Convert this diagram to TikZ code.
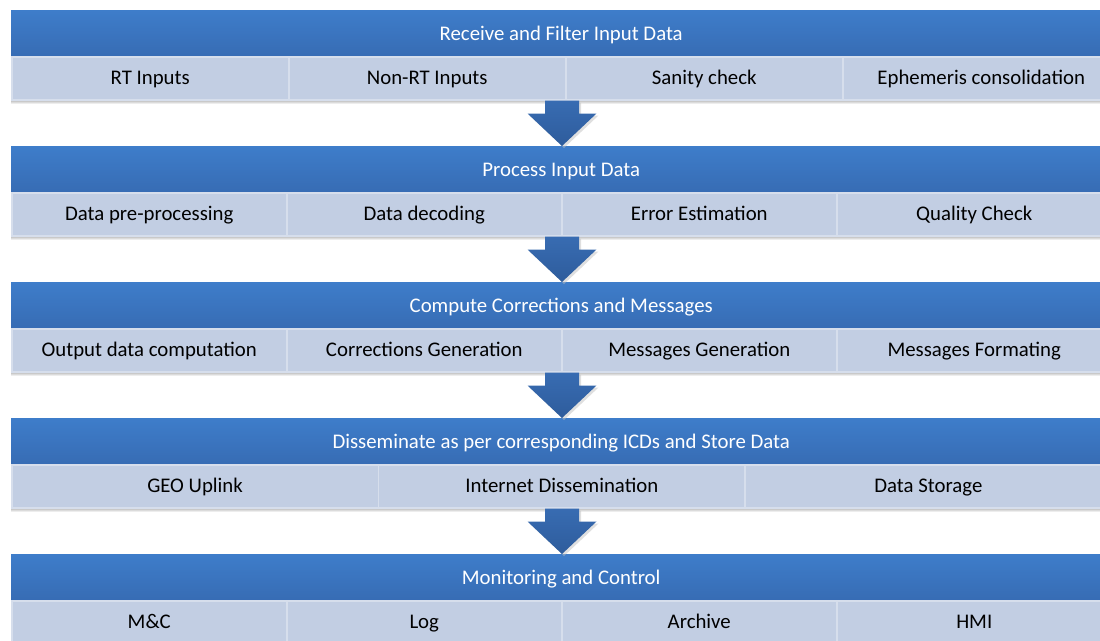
\documentclass[tikz,border=0pt]{standalone}
\usepackage{fontspec}
\setmainfont{Carlito}
\usetikzlibrary{calc}
\definecolor{hdrtop}{RGB}{62,125,202}
\definecolor{hdrbot}{RGB}{55,108,180}
\definecolor{subfill}{RGB}{194,206,227}
\definecolor{subline}{RGB}{214,222,236}
\definecolor{arrtop}{RGB}{56,108,178}
\definecolor{arrbot}{RGB}{46,92,156}
\tikzset{
  txt/.style={font=\fontsize{20.8}{25}\selectfont},
  hdr/.style={rectangle, anchor=north west, minimum width=1100pt, minimum height=46pt,
    inner sep=0pt, top color=hdrtop, bottom color=hdrbot, text=white, txt, text height=16pt, text depth=2pt},
  cell/.style={rectangle, anchor=north west, minimum width=#1, minimum height=43pt,
    inner sep=0pt, fill=subfill, draw=subline, line width=1.5pt, text=black, txt, text height=15pt, text depth=3pt},
  shad/.style={top color=black!35, bottom color=white, draw=none},
  blockarrow/.style={top color=arrtop, bottom color=arrbot, draw=none},
  arrshadow/.style={fill=black!25, opacity=0.5, draw=none}
}
\newcommand{\blkarrow}[2]{%
  \path[arrshadow] ($(#1)+(-15,2)$) -- ($(#1)+(19,2)$) -- ($(#1)+(19,15)$) -- ($(#1)+(36.5,15)$) -- ($(#2)+(2,2)$) -- ($(#1)+(-32.5,15)$) -- ($(#1)+(-15,15)$) -- cycle;
  \path[blockarrow] ($(#1)+(-17,0)$) -- ($(#1)+(17,0)$) -- ($(#1)+(17,13)$) -- ($(#1)+(34.5,13)$) -- (#2) -- ($(#1)+(-34.5,13)$) -- ($(#1)+(-17,13)$) -- cycle;
}
\begin{document}
\begin{tikzpicture}[x=1pt,y=-1pt]
\useasboundingbox (0,0) rectangle (1100,640);
\clip (0,0) rectangle (1100,640);
% shadows under blocks
\foreach \t in {10,146,282,418}{
  \path[shad] (11,\t+89) rectangle (1111,\t+94);
}
% Block 1
\node[hdr] (h1) at (11,10) {Receive and Filter Input Data};
\node[cell=277pt] (c11) at (11,56) {RT Inputs};
\node[cell=277pt] (c12) at (288,56) {Non-RT Inputs};
\node[cell=277pt] (c13) at (565,56) {Sanity check};
\node[cell=277pt] (c14) at (842,56) {Ephemeris consolidation};
% Block 2
\node[hdr] (h2) at (11,146) {Process Input Data};
\node[cell=275pt] (c21) at (11,192) {Data pre-processing};
\node[cell=275pt] (c22) at (286,192) {Data decoding};
\node[cell=275pt] (c23) at (561,192) {Error Estimation};
\node[cell=275pt] (c24) at (836,192) {Quality Check};
% Block 3
\node[hdr] (h3) at (11,282) {Compute Corrections and Messages};
\node[cell=275pt] (c31) at (11,328) {Output data computation};
\node[cell=275pt] (c32) at (286,328) {Corrections Generation};
\node[cell=275pt] (c33) at (561,328) {Messages Generation};
\node[cell=275pt] (c34) at (836,328) {Messages Formating};
% Block 4
\node[hdr] (h4) at (11,418) {Disseminate as per corresponding ICDs and Store Data};
\node[cell=366.7pt] (c41) at (11,464) {GEO Uplink};
\node[cell=366.7pt] (c42) at (377.7,464) {Internet Dissemination};
\node[cell=366.7pt] (c43) at (744.3,464) {Data Storage};
% Block 5
\node[hdr] (h5) at (11,554) {Monitoring and Control};
\node[cell=275pt] (c51) at (11,600) {M\&C};
\node[cell=275pt] (c52) at (286,600) {Log};
\node[cell=275pt] (c53) at (561,600) {Archive};
\node[cell=275pt] (c54) at (836,600) {HMI};
% arrows
\coordinate (a1s) at (c13.south west -| 562,0);
\coordinate (a1e) at (h2.north -| a1s);
\coordinate (a2s) at (c23.south west -| 562,0);
\coordinate (a2e) at (h3.north -| a2s);
\coordinate (a3s) at (c33.south west -| 562,0);
\coordinate (a3e) at (h4.north -| a3s);
\coordinate (a4s) at (c42.south -| 562,0);
\coordinate (a4e) at (h5.north -| a4s);
\blkarrow{a1s}{a1e}
\blkarrow{a2s}{a2e}
\blkarrow{a3s}{a3e}
\blkarrow{a4s}{a4e}
\end{tikzpicture}
\end{document}
